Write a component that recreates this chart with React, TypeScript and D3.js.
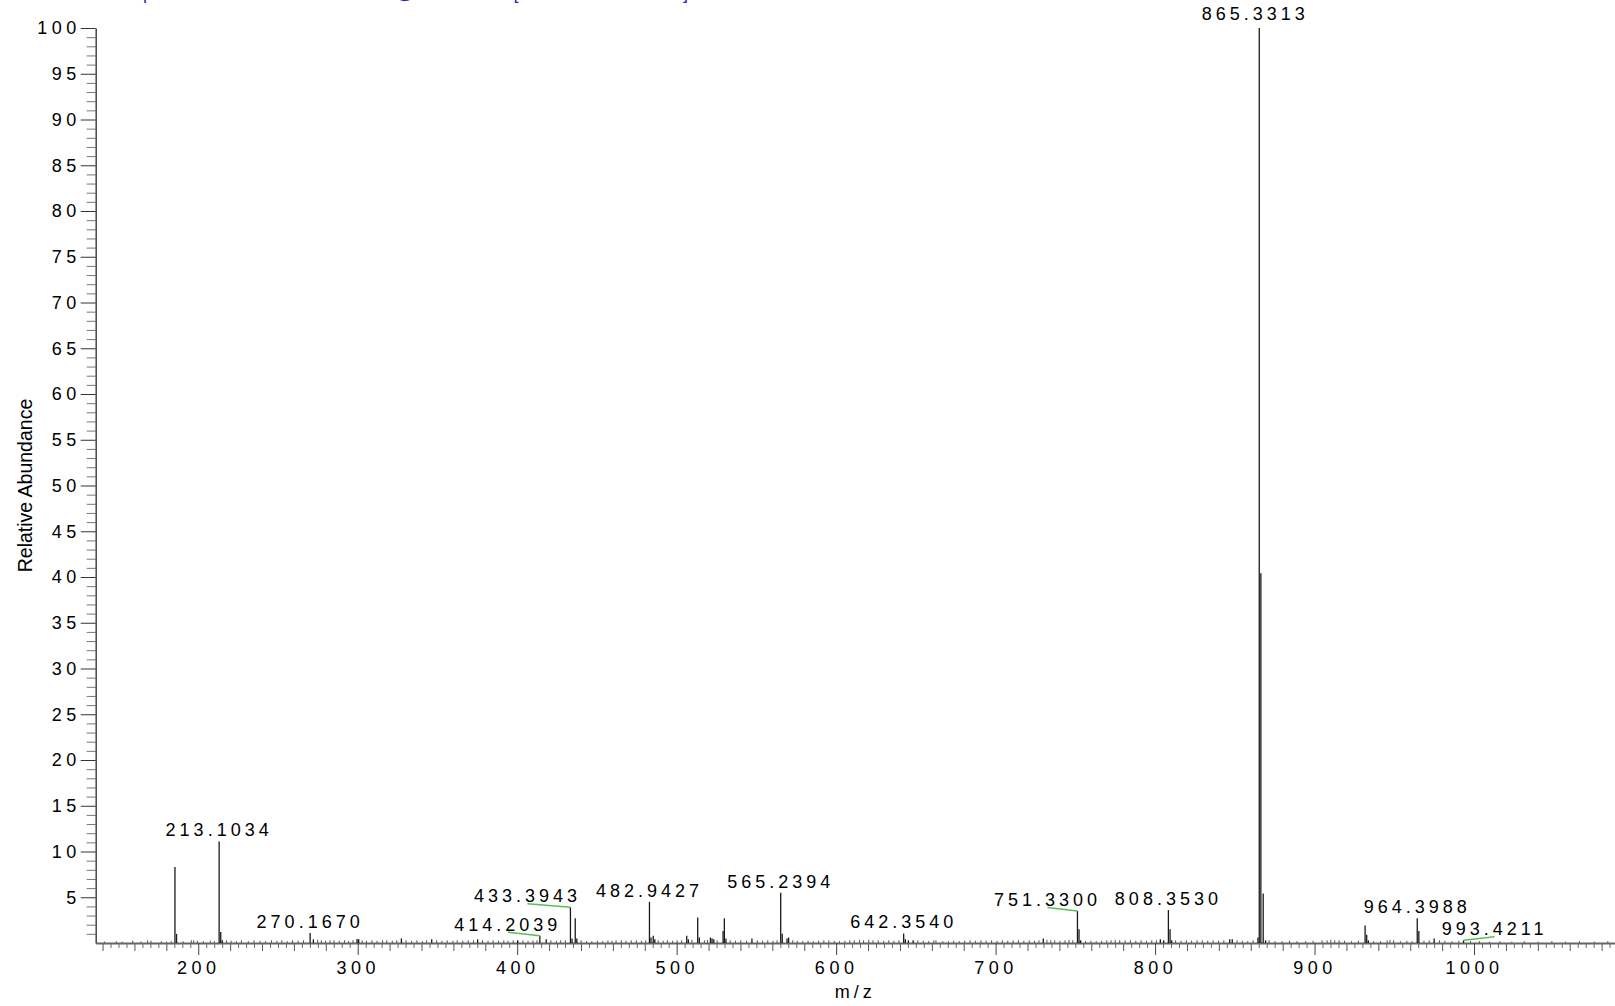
import React, { useEffect, useRef } from "react";
import * as d3 from "d3";

// main ions [m/z, relative abundance %]
const peaks: [number, number][] = [
  [185.4, 8.3], [186.4, 1.0], [213.1034, 11.1], [214.1, 1.2], [215.1, 0.3],
  [270.167, 1.1], [272.2, 0.4], [299.6, 0.45], [300.6, 0.4], [327.4, 0.5],
  [346.4, 0.4], [375.2, 0.4], [400.3, 0.3], [414.2039, 0.8], [418.2, 0.4],
  [433.3943, 3.9], [434.4, 0.5], [436.4, 2.7], [437.4, 0.5],
  [482.9427, 4.5], [483.9, 0.6], [485.3, 0.8], [486.3, 0.4],
  [506.3, 0.8], [507.3, 0.4], [513.2, 2.8], [514.2, 0.6], [521.2, 0.6], [522.2, 0.5], [523.3, 0.4],
  [529.1, 1.3], [529.9, 2.7], [530.9, 0.5], [547.2, 0.5],
  [565.2394, 5.5], [566.2, 1.0], [569.2, 0.5], [570.2, 0.6],
  [642.354, 1.05], [643.4, 0.4], [645.3, 0.3], [648.3, 0.3],
  [729.9, 0.5], [751.33, 3.5], [752.3, 1.5], [753.3, 0.3],
  [803.3, 0.4], [805.4, 0.3], [808.353, 3.6], [809.4, 1.5], [810.4, 0.3],
  [846.8, 0.4], [848.4, 0.4], [864.5, 0.6], [865.3313, 100], [866.33, 40.4], [867.8, 5.4], [869.3, 0.3],
  [931.7, 1.9], [932.7, 0.9], [933.7, 0.3], [964.3988, 2.7], [965.4, 1.3], [975.0, 0.5], [993.4211, 0.3],
];

// baseline noise [m/z, relative abundance %]
const noise: [number, number][] = [
  [141.2, 0.15], [148.6, 0.2], [152.3, 0.15], [158.9, 0.25], [164.1, 0.15], [168.3, 0.3], [170.4, 0.25],
  [176.8, 0.2], [180.2, 0.15], [183.1, 0.2], [190.5, 0.2], [195.7, 0.3], [197.1, 0.3], [199.4, 0.25],
  [203.2, 0.2], [207.6, 0.25], [210.1, 0.2], [217.8, 0.3], [220.6, 0.25], [223.9, 0.2], [227.1, 0.3],
  [231.4, 0.2], [235.0, 0.3], [238.7, 0.25], [242.2, 0.2], [245.9, 0.3], [249.3, 0.25], [252.4, 0.3],
  [255.8, 0.2], [259.1, 0.3], [262.7, 0.25], [266.0, 0.3], [274.9, 0.35], [277.2, 0.3], [279.8, 0.25],
  [282.6, 0.3], [285.1, 0.3], [288.4, 0.25], [291.7, 0.3], [294.3, 0.2], [297.0, 0.3], [302.8, 0.3],
  [305.5, 0.25], [308.9, 0.3], [312.1, 0.25], [315.6, 0.3], [318.2, 0.3], [321.7, 0.25], [324.5, 0.3],
  [330.3, 0.3], [333.8, 0.25], [337.1, 0.3], [340.6, 0.2], [343.2, 0.3], [349.5, 0.3], [352.8, 0.25],
  [356.1, 0.3], [359.7, 0.25], [362.4, 0.3], [365.9, 0.25], [369.3, 0.3], [372.6, 0.3], [378.2, 0.3],
  [381.7, 0.25], [384.9, 0.3], [388.3, 0.25], [391.6, 0.3], [394.2, 0.25], [397.5, 0.3], [403.6, 0.3],
  [406.8, 0.25], [409.9, 0.3], [412.4, 0.3], [421.1, 0.3], [424.6, 0.25], [427.3, 0.3], [430.2, 0.3],
  [440.1, 0.3], [443.5, 0.2], [446.8, 0.2], [450.3, 0.25], [453.6, 0.2], [456.9, 0.3], [459.4, 0.25],
  [462.0, 0.3], [465.3, 0.3], [468.2, 0.25], [471.5, 0.3], [474.7, 0.3], [477.9, 0.25], [480.6, 0.3],
  [488.4, 0.3], [491.6, 0.25], [494.2, 0.3], [497.5, 0.25], [500.3, 0.3], [503.1, 0.3], [509.6, 0.35],
  [517.4, 0.3], [519.3, 0.35], [525.4, 0.3], [533.6, 0.3], [536.9, 0.25], [540.2, 0.3], [543.8, 0.25],
  [550.6, 0.3], [553.9, 0.25], [557.1, 0.3], [560.4, 0.25], [563.0, 0.3], [572.8, 0.3], [575.6, 0.25],
  [579.1, 0.2], [582.4, 0.25], [585.7, 0.2], [589.0, 0.25], [592.3, 0.3], [595.4, 0.3], [598.8, 0.25],
  [602.1, 0.2], [605.5, 0.25], [608.6, 0.3], [611.4, 0.3], [614.7, 0.35], [617.2, 0.3], [620.5, 0.35],
  [623.1, 0.3], [626.4, 0.3], [629.8, 0.25], [633.0, 0.3], [636.2, 0.25], [639.4, 0.3], [651.2, 0.3],
  [654.6, 0.25], [658.0, 0.2], [661.3, 0.3], [662.6, 0.3], [666.9, 0.2], [670.4, 0.2], [673.7, 0.25],
  [677.2, 0.2], [680.6, 0.25], [684.0, 0.3], [687.3, 0.25], [690.8, 0.3], [694.1, 0.25], [697.5, 0.3],
  [700.9, 0.25], [704.2, 0.3], [707.6, 0.25], [711.0, 0.3], [714.3, 0.3], [717.7, 0.25], [721.1, 0.3],
  [724.4, 0.25], [727.2, 0.3], [732.2, 0.35], [734.6, 0.3], [737.0, 0.3], [740.3, 0.25], [743.5, 0.3],
  [746.1, 0.35], [748.4, 0.3], [756.4, 0.2], [759.8, 0.25], [763.1, 0.2], [766.5, 0.25], [769.7, 0.3],
  [772.4, 0.3], [775.0, 0.35], [777.8, 0.3], [781.2, 0.3], [784.5, 0.3], [787.9, 0.25], [791.2, 0.3],
  [794.6, 0.25], [797.9, 0.3], [800.8, 0.3], [812.9, 0.3], [816.3, 0.25], [819.6, 0.3], [822.9, 0.25],
  [826.3, 0.3], [829.6, 0.3], [833.0, 0.25], [836.4, 0.3], [839.8, 0.25], [843.1, 0.3], [851.4, 0.3],
  [854.7, 0.25], [858.1, 0.2], [861.5, 0.3], [871.5, 0.3], [875.2, 0.2], [879.6, 0.2], [884.3, 0.25],
  [889.0, 0.2], [894.4, 0.2], [899.1, 0.25], [904.7, 0.3], [907.9, 0.3], [910.2, 0.35], [912.6, 0.3],
  [915.4, 0.3], [918.8, 0.25], [923.1, 0.2], [927.5, 0.25], [937.0, 0.2], [941.4, 0.2], [945.5, 0.3],
  [947.3, 0.35], [949.6, 0.3], [953.8, 0.2], [957.9, 0.25], [961.2, 0.2], [968.6, 0.25], [971.9, 0.3],
  [978.3, 0.3], [981.7, 0.25], [986.2, 0.2], [990.5, 0.25], [997.8, 0.2], [1003.4, 0.2], [1009.6, 0.15],
  [1016.2, 0.2], [1023.7, 0.15], [1031.5, 0.2], [1040.2, 0.15], [1048.8, 0.2], [1057.3, 0.15],
  [1066.1, 0.2], [1075.4, 0.15], [1083.9, 0.2],
];

const peakLabels = [
  "213.1034", "270.1670", "414.2039", "433.3943", "482.9427", "565.2394",
  "642.3540", "751.3300", "808.3530", "865.3313", "964.3988", "993.4211",
];

const xTickLabels = [200, 300, 400, 500, 600, 700, 800, 900, 1000];
const yTickLabels = [5, 10, 15, 20, 25, 30, 35, 40, 45, 50, 55, 60, 65, 70, 75, 80, 85, 90, 95, 100];

const title = "FTMS + p ESI d Full ms2 865.33@cid35.00 [135.00-1100.00]";

// labels that were pushed aside get a green leader line
const labelShift: Record<string, { dx: number; dy: number }> = {
  "414.2039": { dx: -32, dy: 0 },
  "433.3943": { dx: -43, dy: 0 },
  "751.3300": { dx: -30, dy: 0 },
  "993.4211": { dx: 31, dy: 0 },
  "865.3313": { dx: -4, dy: -3 },
};

const font = "'Liberation Sans', Arial, sans-serif";

function App() {
  const ref = useRef<SVGSVGElement>(null);

  useEffect(() => {
    const width = 1615;
    const height = 1006;
    const margin = { top: 28, left: 95.7, bottom: 63, right: 0 };

    const svg = d3.select(ref.current);
    svg.selectAll("*").remove();

    const x = d3.scaleLinear()
      .domain([135.7, 1088.4])
      .range([margin.left, width - margin.right]);

    const y = d3.scaleLinear()
      .domain([0, 100])
      .range([height - margin.bottom, margin.top]);

    const [x0, x1] = x.domain();
    const xMid = d3.range(140, x1, 20).filter(v => v % 100 !== 0);
    const xMinor = d3.range(140, x1, 5).filter(v => v % 20 !== 0);
    const yMinor = d3.range(1, 100).filter(v => v % 5 !== 0);

    // title line, cut off at the top edge like the original export
    svg.append("text")
      .attr("x", 55)
      .attr("y", -0.8)
      .attr("textLength", 633)
      .attr("lengthAdjust", "spacing")
      .attr("font-family", font)
      .attr("font-size", 18)
      .attr("fill", "#2a2ab4")
      .text(title);

    // x axis: minor / mid / major ticks
    const xg = svg.append("g").attr("transform", `translate(0,${y(0)})`);
    xg.append("g")
      .call(d3.axisBottom(x).tickValues(xMinor).tickSize(5).tickSizeOuter(0).tickFormat(() => ""))
      .call(g => g.select(".domain").remove())
      .call(g => g.selectAll("line").attr("stroke", "#6a6a6a"));
    xg.append("g")
      .call(d3.axisBottom(x).tickValues(xMid).tickSize(8).tickSizeOuter(0).tickFormat(() => ""))
      .call(g => g.select(".domain").remove())
      .call(g => g.selectAll("line").attr("stroke", "#555"));
    xg.append("g")
      .call(d3.axisBottom(x).tickValues(xTickLabels).tickSize(12).tickSizeOuter(0).tickPadding(6).tickFormat(d3.format("d")))
      .attr("font-family", font)
      .attr("font-size", 18)
      .call(g => g.select(".domain").attr("stroke", "#666").attr("stroke-width", 2))
      .call(g => g.selectAll("line").attr("stroke", "#444"))
      .call(g => g.selectAll("text").attr("fill", "#000").style("letter-spacing", "4.5px"));

    // y axis
    const yg = svg.append("g").attr("transform", `translate(${margin.left},0)`);
    yg.append("g")
      .call(d3.axisLeft(y).tickValues(yMinor).tickSize(9).tickSizeOuter(0).tickFormat(() => ""))
      .call(g => g.select(".domain").remove())
      .call(g => g.selectAll("line").attr("stroke", "#777"));
    yg.append("g")
      .call(d3.axisLeft(y).tickValues(yTickLabels).tickSize(15).tickSizeOuter(0).tickPadding(0))
      .attr("font-family", font)
      .attr("font-size", 18)
      .call(g => g.select(".domain").attr("stroke", "#444").attr("stroke-width", 1.5))
      .call(g => g.selectAll("line").attr("stroke", "#333"))
      .call(g => g.selectAll("text").attr("fill", "#000").style("letter-spacing", "4.5px"));

    // noise
    svg.append("g")
      .attr("stroke", "#555")
      .attr("stroke-width", 1)
      .selectAll("line")
      .data(noise.filter(d => d[0] > x0))
      .join("line")
      .attr("x1", d => x(d[0]))
      .attr("x2", d => x(d[0]))
      .attr("y1", y(0))
      .attr("y2", d => y(d[1]));

    // peaks
    svg.append("g")
      .attr("stroke", "#1a1a1a")
      .attr("stroke-width", 1.3)
      .selectAll("line")
      .data(peaks)
      .join("line")
      .attr("x1", d => x(d[0]))
      .attr("x2", d => x(d[0]))
      .attr("y1", y(0))
      .attr("y2", d => y(d[1]));

    // peak labels
    const labelled = peakLabels.map(label => {
      const p = peaks.find(d => Math.abs(d[0] - +label) < 0.01)!;
      const s = labelShift[label] || { dx: 0, dy: 0 };
      return { label, px: x(p[0]), py: y(p[1]), dx: s.dx, dy: s.dy };
    });

    svg.append("g")
      .attr("stroke", "#55c055")
      .attr("stroke-width", 1.4)
      .selectAll("line")
      .data(labelled.filter(d => Math.abs(d.dx) > 10))
      .join("line")
      .attr("x1", d => d.px)
      .attr("y1", d => d.py)
      .attr("x2", d => d.px + d.dx)
      .attr("y2", d => d.py - 5 + d.dy + 1.5);

    svg.append("g")
      .attr("font-family", font)
      .attr("font-size", 18)
      .attr("fill", "#000")
      .attr("text-anchor", "middle")
      .style("letter-spacing", "4px")
      .selectAll("text")
      .data(labelled)
      .join("text")
      .attr("x", d => d.px + d.dx)
      .attr("y", d => d.py - 5 + d.dy)
      .text(d => d.label);

    // axis titles
    svg.append("text")
      .attr("x", (x.range()[0] + x.range()[1]) / 2)
      .attr("y", 998)
      .attr("text-anchor", "middle")
      .attr("font-family", font)
      .attr("font-size", 18)
      .style("letter-spacing", "4px")
      .text("m/z");

    svg.append("text")
      .attr("transform", `translate(32,${(y(0) + y(100)) / 2}) rotate(-90)`)
      .attr("text-anchor", "middle")
      .attr("font-family", font)
      .attr("font-size", 19.5)
      .text("Relative Abundance");
  }, []);

  return (
    <svg
      ref={ref}
      width={1615}
      height={1006}
      style={{ position: "absolute", left: 0, top: 0, background: "#fff" }}
    />
  );
}

export default App;
